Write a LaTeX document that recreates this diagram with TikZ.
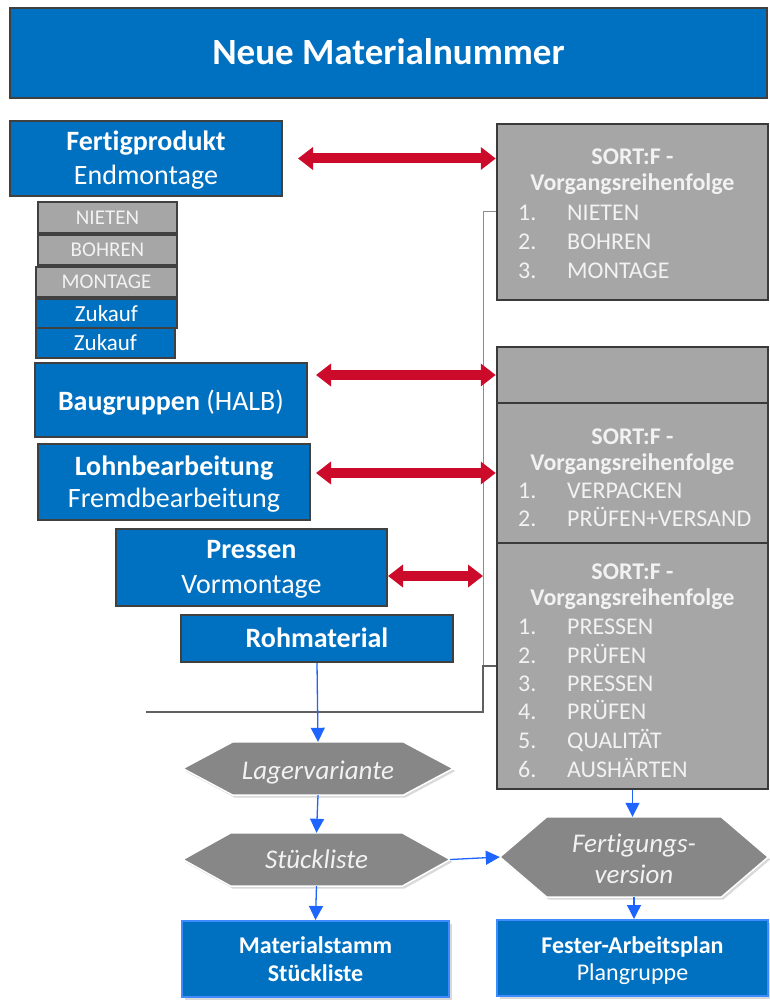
\documentclass[tikz,border=0pt]{standalone}
\usepackage{fontspec}
\setmainfont{Carlito}[Ligatures=NoCommon]
\usetikzlibrary{arrows.meta,calc,shadows,backgrounds}

\definecolor{boxblue}{HTML}{0070C0}
\definecolor{boxedge}{HTML}{404040}
\definecolor{sortgray}{HTML}{A6A6A6}
\definecolor{sortedge}{HTML}{3A3A3A}
\definecolor{hexgray}{HTML}{878787}
\definecolor{linkred}{HTML}{CC0A2A}
\definecolor{flowblue}{HTML}{1E64FF}
\definecolor{softwhite}{HTML}{F2F2F2}
\definecolor{brightedge}{HTML}{3D8BFF}
\definecolor{wiregray}{HTML}{8C8C8C}
\definecolor{busgray}{HTML}{606060}

\newcommand{\fs}[2]{\fontsize{#1}{#2}\selectfont}
% elongated hexagon spanning the bounding box of a node
\newcommand{\hexof}[2]{%
  \path[hexfill] (#1.west) -- ([xshift=#2]#1.north west) -- ([xshift=-#2]#1.north east)
    -- (#1.east) -- ([xshift=-#2]#1.south east) -- ([xshift=#2]#1.south west) -- cycle;}

\begin{document}
\begin{tikzpicture}[x=1pt,y=-1pt,
  bluebox/.style={draw=boxedge, line width=2pt, fill=boxblue, inner sep=0pt},
  lowbox/.style={draw=brightedge, line width=2pt, fill=boxblue, inner sep=0pt,
    drop shadow={shadow xshift=2.5pt, shadow yshift=-2.5pt, opacity=0.3}},
  boldtext/.style={inner sep=0pt, anchor=base, text=white, font=\fs{28}{34}\bfseries},
  plaintext/.style={inner sep=0pt, anchor=base, text=white, font=\fs{28}{34}},
  sortbox/.style={draw=sortedge, line width=2.5pt, fill=sortgray, inner sep=0pt},
  stepgray/.style={draw=boxedge, line width=2pt, fill=sortgray, text=softwhite, inner sep=0pt, font=\fs{21}{25}},
  stepblue/.style={draw=boxedge, line width=2pt, fill=boxblue, text=white, inner sep=0pt, font=\fs{23}{27}},
  sorthead/.style={inner sep=0pt, anchor=base, text=softwhite, font=\fs{24}{28}\bfseries},
  sortitem/.style={inner sep=0pt, anchor=base west, text=softwhite, font=\fs{24}{28}},
  hexframe/.style={inner sep=0pt},
  hexfill/.style={fill=hexgray, draw=white, line width=1.5pt,
    drop shadow={shadow xshift=2pt, shadow yshift=-2.5pt, opacity=0.3}},
  hextext/.style={inner sep=0pt, anchor=base, text=softwhite, font=\fs{27}{31}\itshape},
  link/.style={draw=linkred, line width=10pt, {Triangle[width=22pt,length=15pt]}-{Triangle[width=22pt,length=15pt]}},
  flow/.style={draw=flowblue, line width=1.3pt, -{Triangle[width=14pt,length=14pt]}},
  thinwire/.style={draw=wiregray, line width=1pt},
  busline/.style={draw=busgray, line width=1.8pt},
]
\useasboundingbox (0,0) rectangle (769,1000);

% title
\node[bluebox, minimum width=757pt, minimum height=90pt] (title) at (388.5,53) {};
\node[boldtext, font=\fs{37}{44}\bfseries] (titleT) at (388.5,65) {Neue Materialnummer};

% left column of material levels
\node[bluebox, minimum width=272pt, minimum height=75pt] (fert) at (146,158.5) {};
\node[boldtext] (fertA) at (146,151) {Fertigprodukt};
\node[plaintext] (fertB) at (146,185) {Endmontage};

\node[stepgray, minimum width=139pt, minimum height=31pt] (opA) at (107.5,217.5) {NIETEN};
\node[stepgray, minimum width=139pt, minimum height=30pt] (opB) at (107.5,250) {BOHREN};
\node[stepgray, minimum width=141pt, minimum height=30pt] (opC) at (106.5,282) {MONTAGE};
\node[stepblue, minimum width=141pt, minimum height=29pt] (buyA) at (106.5,313.5) {Zukauf};
\node[stepblue, minimum width=139pt, minimum height=30pt] (buyB) at (105.5,343) {Zukauf};

\node[bluebox, minimum width=272pt, minimum height=74pt] (baug) at (171,400) {};
\node[plaintext] (baugT) at (171,410) {\textbf{Baugruppen} (HALB)};

\node[bluebox, minimum width=272pt, minimum height=76pt] (lohn) at (174,482) {};
\node[boldtext] (lohnA) at (174,475) {Lohnbearbeitung};
\node[plaintext] (lohnB) at (174,507) {Fremdbearbeitung};

\node[bluebox, minimum width=271pt, minimum height=77pt] (press) at (251.5,567.5) {};
\node[boldtext] (pressA) at (251.5,558) {Pressen};
\node[plaintext] (pressB) at (251.5,593) {Vormontage};

\node[bluebox, minimum width=272pt, minimum height=47pt] (rohm) at (317,638.5) {};
\node[boldtext] (rohmT) at (317,647) {Rohmaterial};

% right column: operation sequences
\node[sortbox, minimum width=271pt, minimum height=176pt] (sortA) at (632.5,212) {};
\node[sortbox, minimum width=271pt, minimum height=56pt] (sortE) at (632.5,375) {};
\node[sortbox, minimum width=271pt, minimum height=140pt] (sortB) at (632.5,473) {};
\node[sortbox, minimum width=271pt, minimum height=246pt] (sortC) at (632.5,666) {};

\node[sorthead] (sortAh) at (632.5,165) {SORT:F -};
\node[sorthead] (sortAv) at (632.5,191) {Vorgangsreihenfolge};
\foreach \n/\t/\y in {1/NIETEN/221, 2/BOHREN/249, 3/MONTAGE/278} {
  \node[sortitem] (sortAn\n) at (518,\y) {\n.};
  \node[sortitem] (sortAi\n) at (567,\y) {\t};
}
\node[sorthead] (sortBh) at (632.5,444) {SORT:F -};
\node[sorthead] (sortBv) at (632.5,470) {Vorgangsreihenfolge};
\foreach \n/\t/\y in {1/VERPACKEN/498, 2/PRÜFEN+VERSAND/526} {
  \node[sortitem] (sortBn\n) at (518,\y) {\n.};
  \node[sortitem] (sortBi\n) at (567,\y) {\t};
}
\node[sorthead] (sortCh) at (632.5,579) {SORT:F -};
\node[sorthead] (sortCv) at (632.5,605) {Vorgangsreihenfolge};
\foreach \n/\t/\y in {1/PRESSEN/634, 2/PRÜFEN/663, 3/PRESSEN/691, 4/PRÜFEN/719, 5/QUALITÄT/748, 6/AUSHÄRTEN/777} {
  \node[sortitem] (sortCn\n) at (518,\y) {\n.};
  \node[sortitem] (sortCi\n) at (567,\y) {\t};
}

% flow of master data
\node[hexframe, minimum width=270pt, minimum height=53pt] (lager) at (318,768.5) {};
\node[hexframe, minimum width=267pt, minimum height=53pt] (stueck) at (316.5,859.5) {};
\node[hexframe, minimum width=268pt, minimum height=80pt] (fertv) at (634,857) {};
\begin{scope}[on background layer]
  \hexof{lager}{50pt}
  \hexof{stueck}{48pt}
  \hexof{fertv}{47pt}
\end{scope}
\node[hextext] (lagerT) at (318,779) {Lagervariante};
\node[hextext] (stueckT) at (316.5,868) {Stückliste};
\node[hextext] (fertvA) at (634,852) {Fertigungs-};
\node[hextext] (fertvB) at (634,883) {version};

\node[lowbox, minimum width=267pt, minimum height=76pt] (matst) at (315.5,959) {};
\node[boldtext, font=\fs{24}{28}\bfseries] (matstA) at (315.5,953) {Materialstamm};
\node[boldtext, font=\fs{24}{28}\bfseries] (matstB) at (315.5,981) {Stückliste};
\node[lowbox, minimum width=271pt, minimum height=76pt] (fester) at (632.5,958) {};
\node[boldtext, font=\fs{24}{28}\bfseries] (festerA) at (632.5,953) {Fester-Arbeitsplan};
\node[plaintext, font=\fs{24}{28}] (festerB) at (632.5,980) {Plangruppe};

% wiring between the sequences
\coordinate (busJ) at (483,668);
\coordinate (busK) at (483,712);
\coordinate (busEnd) at (146,712);
\draw[thinwire] (sortA.west) -| (busJ);
\draw[busline] (sortC.west) -- (sortC.west -| busK) -- (busK) -- (busEnd);

% assignments between levels and sequences
\draw[link] ([xshift=15pt]fert.east) -- (fert.east -| sortA.west);
\draw[link] ([xshift=8pt]baug.east |- sortE.west) -- (sortE.west);
\draw[link] ([xshift=5pt]lohn.east |- sortB.west) -- (sortB.west);
\draw[link] ($(press.east)+(0,8.5)$) -- ($(press.east -| busJ)+(0,8.5)$);

% flow arrows
\draw[flow] (rohm.south) -- (lager.north);
\draw[flow] (lager.south) -- (stueck.north);
\draw[flow] (stueck.east) -- (fertv.west);
\draw[flow] (stueck.south) -- (matst.north);
\draw[flow] (sortC.south) -- (sortC.south |- fertv.north);
\draw[flow] (fertv.south) -- (fertv.south |- fester.north);
\end{tikzpicture}
\end{document}
